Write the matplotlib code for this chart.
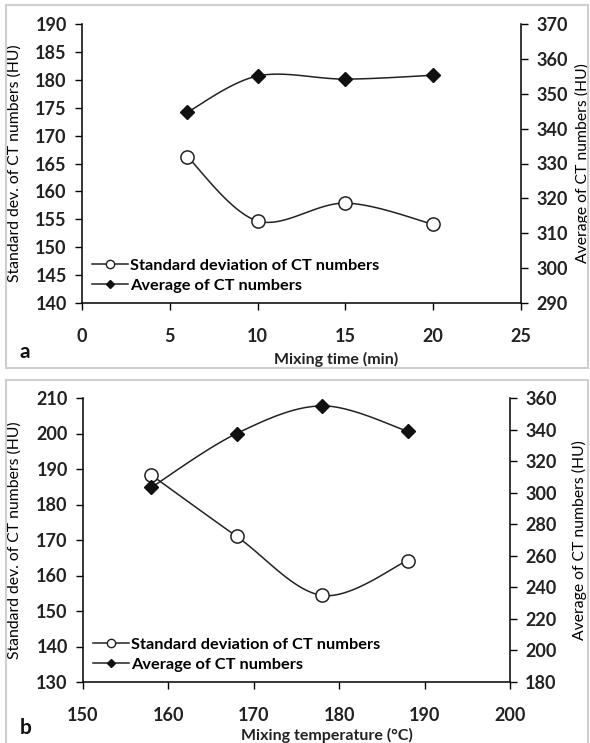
import numpy as np
import matplotlib
matplotlib.use("Agg")
from matplotlib import pyplot as plt
from matplotlib.lines import Line2D
from matplotlib.patches import Rectangle

plt.rcParams['font.family'] = ['Lato', 'DejaVu Sans']

# panel a: mixing time
time_min = [6, 10, 15, 20]
sd_time = [166.2, 154.7, 157.9, 154.1]
avg_time = [344.7, 355.1, 354.2, 355.3]

# panel b: mixing temperature
temp_c = [158, 168, 178, 188]
sd_temp = [188.3, 171.0, 154.4, 164.2]
avg_temp = [303.3, 337.5, 355.0, 339.0]

W, H = 590, 743
fig = plt.figure(figsize=(W / 100, H / 100), dpi=100)


def smooth(ax, xs, ys, n=40):
    # Excel style smoothed line: bezier through the points, computed in screen space
    x0, x1 = ax.get_xlim()
    y0, y1 = ax.get_ylim()
    bb = ax.get_position()
    sx = (np.asarray(xs, float) - x0) / (x1 - x0) * bb.width * W
    sy = (np.asarray(ys, float) - y0) / (y1 - y0) * bb.height * H
    P = np.column_stack([sx, sy])
    pts = []
    for i in range(len(P) - 1):
        p0 = P[i - 1] if i > 0 else P[i]
        p1, p2 = P[i], P[i + 1]
        p3 = P[i + 2] if i + 2 < len(P) else P[i + 1]
        c1 = p1 + (p2 - p0) / 6
        c2 = p2 - (p3 - p1) / 6
        t = np.linspace(0, 1, n)[:, None]
        seg = ((1 - t) ** 3 * p1 + 3 * (1 - t) ** 2 * t * c1
               + 3 * (1 - t) * t ** 2 * c2 + t ** 3 * p2)
        pts.append(seg)
    pts = np.vstack(pts)
    bx = pts[:, 0] / (bb.width * W) * (x1 - x0) + x0
    by = pts[:, 1] / (bb.height * H) * (y1 - y0) + y0
    return bx, by


def panel(rect, xs, sd, avg, xlim, xticks, ylim, yticks, y2lim, y2ticks,
          xlabel, letter, lab_pos, leg_y):
    ax = fig.add_axes(rect)
    ax2 = ax.twinx()
    ax.set_xlim(*xlim)
    ax.set_ylim(*ylim)
    ax2.set_ylim(*y2lim)
    ax.set_xticks(xticks)
    ax.set_yticks(yticks)
    ax2.set_yticks(y2ticks)
    for a in (ax, ax2):
        a.spines['top'].set_visible(False)
        for s in a.spines.values():
            s.set_linewidth(1.1)
        a.tick_params(direction='out', length=5, width=1.0, labelsize=13,
                      pad=6)
    ax.spines['right'].set_visible(False)
    ax2.spines['left'].set_visible(False)
    ax2.spines['bottom'].set_visible(False)
    ax.tick_params(axis='x', pad=13)
    for lab in ax.get_xticklabels() + ax.get_yticklabels() + ax2.get_yticklabels():
        lab.set_fontweight('bold')
        lab.set_color('#222222')

    bx, by = smooth(ax, xs, sd)
    ax.plot(bx, by, color='#222222', lw=1.1)
    ax.plot(xs, sd, 'o', mfc='white', mec='#222222', ms=9.5, mew=1.1)
    bx, by = smooth(ax2, xs, avg)
    ax2.plot(bx, by, color='#222222', lw=1.1)
    ax2.plot(xs, avg, 'D', color='#111111', ms=7)

    ax.set_ylabel('Standard dev. of CT numbers (HU)', fontsize=11.3)
    ax2.set_ylabel('Average of CT numbers (HU)', fontsize=11.3)
    ax.yaxis.set_label_coords(lab_pos[0], 0.5)
    ax2.yaxis.set_label_coords(lab_pos[1], 0.5)
    ax.set_xlabel(xlabel, fontsize=11.5, fontweight='bold', color='#222222')
    ax.xaxis.set_label_coords(lab_pos[2], lab_pos[3])

    handles = [
        Line2D([], [], color='#222222', lw=1.1, marker='o', mfc='white',
               mec='#222222', ms=6),
        Line2D([], [], color='#222222', lw=1.1, marker='D', mfc='#111111',
               mec='#111111', ms=4.5),
    ]
    ax.legend(handles, ['Standard deviation of CT numbers', 'Average of CT numbers'],
              loc='lower left', bbox_to_anchor=(0.0, leg_y), frameon=False,
              handlelength=2.2, handletextpad=0.15,
              borderaxespad=0.2, labelspacing=0.35,
              prop={'weight': 'bold', 'size': 11.8})
    ax.text(lab_pos[0] - 0.005, lab_pos[3], letter, transform=ax.transAxes,
            fontsize=15, fontweight='bold', va='center', ha='left',
            color='#111111')
    return ax, ax2


# panel frames
fig.patches.append(Rectangle((6 / W, 1 - 368 / H), 582 / W, 363 / H,
                             transform=fig.transFigure, fill=False,
                             ec='#cfcfcf', lw=1.5))
fig.patches.append(Rectangle((6 / W, 1 - 745 / H), 582 / W, 365 / H,
                             transform=fig.transFigure, fill=False,
                             ec='#cfcfcf', lw=1.5))

panel([82 / W, 1 - 303 / H, 439 / W, 279 / H], time_min, sd_time, avg_time,
      (0, 25), [0, 5, 10, 15, 20, 25], (140, 190), np.arange(140, 191, 5),
      (290, 370), np.arange(290, 371, 10), 'Mixing time (min)', 'a',
      (-0.137, 1.122, 0.58, -0.176), 0.0)

panel([83 / W, 1 - 682 / H, 427 / W, 284 / H], temp_c, sd_temp, avg_temp,
      (150, 200), np.arange(150, 201, 10), (130, 210), np.arange(130, 211, 10),
      (180, 360), np.arange(180, 361, 20), 'Mixing temperature (°C)', 'b',
      (-0.143, 1.145, 0.571, -0.162), 0.0)

fig.savefig('out.png', dpi=100)
